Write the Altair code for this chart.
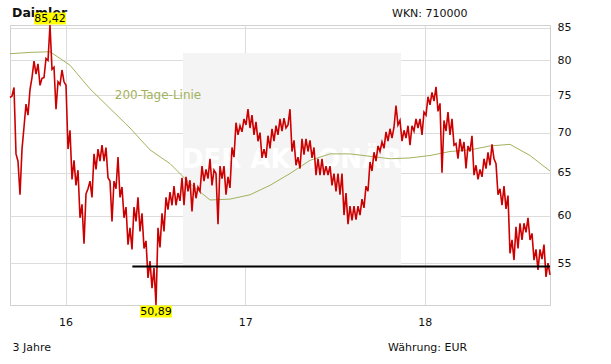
import altair as alt
import pandas as pd

# ---------------- data ----------------
start_date = "2015-09-10"
end_date = "2018-09-13"

price = [
    74.7, 74.9, 76.1, 67.3, 66.4, 62.4, 67.9, 70.7, 73.8, 72.3,
    75.8, 77.5, 79.9, 78.0, 79.5, 76.4, 77.4, 77.5, 80.3, 80.0,
    85.42, 78.7, 79.0, 73.1, 76.9, 76.5, 78.6, 76.9, 76.4, 67.9,
    70.3, 64.2, 66.5, 63.5, 65.3, 59.8, 61.3, 57.0, 62.5, 63.1,
    64.0, 62.1, 67.3, 65.4, 67.9, 66.4, 68.4, 66.4, 68.1, 64.4,
    64.0, 59.4, 64.0, 63.1, 66.9, 62.1, 63.3, 59.8, 61.0, 56.9,
    58.7, 56.4, 61.0, 59.4, 62.1, 58.3, 60.3, 56.5, 57.3, 53.5,
    55.2, 52.5, 54.5, 50.89, 58.7, 56.6, 60.3, 58.3, 62.1, 60.7,
    62.7, 61.2, 63.4, 61.2, 62.6, 61.7, 64.4, 61.2, 64.5, 62.8,
    64.1, 60.5, 63.8, 62.0, 63.3, 62.8, 65.8, 64.0, 65.4, 64.3,
    66.7, 63.5, 65.3, 64.9, 59.1, 65.8, 64.3, 65.8, 62.4, 64.5,
    63.2, 68.1, 66.9, 71.3, 69.7, 70.9, 70.1, 71.8, 71.0, 73.1,
    70.6, 72.3, 69.7, 71.4, 68.9, 70.0, 66.8, 67.9, 66.8, 69.6,
    68.0, 70.5, 68.9, 70.9, 69.7, 71.8, 70.2, 71.9, 70.6, 71.0,
    73.1, 67.6, 69.0, 65.9, 66.9, 65.5, 69.2, 67.2, 69.2, 67.6,
    69.0, 66.8, 68.1, 64.7, 66.7, 64.7, 66.7, 64.7, 65.8, 64.7,
    65.8, 63.5, 64.9, 62.8, 64.9, 62.4, 64.9, 60.1, 62.6, 59.1,
    61.1, 59.5, 61.1, 59.6, 61.1, 60.1, 61.9, 60.9, 63.4, 62.8,
    66.3, 65.2, 67.5, 66.4, 68.3, 67.6, 68.8, 68.0, 70.1, 68.9,
    70.5, 69.3, 70.7, 73.6, 71.0, 71.6, 68.9, 70.3, 69.3, 70.9,
    68.4, 70.9, 70.2, 71.8, 70.6, 71.8, 69.7, 72.7, 72.3, 74.8,
    73.7, 75.4, 74.2, 76.2, 72.8, 73.9, 65.0, 71.6, 70.2, 72.7,
    69.7, 71.8, 68.4, 68.6, 66.7, 69.2, 67.6, 68.8, 65.5, 68.3,
    67.6, 69.6, 64.7, 65.9, 64.2, 65.4, 64.5, 66.7, 65.5, 67.5,
    65.9, 68.5, 66.7, 66.1, 62.4, 63.1, 61.2, 63.4, 60.8, 62.3,
    56.0, 57.4, 55.3, 58.8, 56.5, 59.2, 57.4, 59.2, 58.2, 59.8,
    57.4, 58.1, 55.3, 56.4, 54.3, 56.4, 55.4, 56.9, 53.6, 55.0,
    53.8,
]

# 200-day line, one value for every 10th date of the price series
ma_200 = [
    81.0, 81.2, 81.3, 79.3, 75.9, 73.2, 70.6, 67.8, 66.1, 63.7,
    61.8, 61.9, 62.4, 63.5, 64.9, 66.5, 67.3, 67.3, 67.0, 66.7,
    66.8, 67.1, 67.6, 67.8, 68.3, 68.5, 67.1, 65.2,
]

support_level = 54.65
support_start = "2016-05-16"

year_ticks = [2016, 2017, 2018]
y_ticks = [55, 60, 65, 70, 75, 80, 85]

title_text = "Daimler"
wkn_text = "WKN: 710000"
period_text = "3 Jahre"
currency_text = "Währung: EUR"
ma_label = "200-Tage-Linie"
watermark = "DER AKTIONÄR"

# ---------------- tables ----------------
dates = pd.date_range(start_date, end_date, periods=len(price))
date_str = [d.strftime("%Y-%m-%dT%H:%M:%S") for d in dates]
price_df = pd.DataFrame({"date": date_str, "price": price})
ma_df = pd.DataFrame({"date": date_str[::10], "price": ma_200})
support_df = pd.DataFrame({"date": [support_start], "date2": [date_str[-1]],
                           "price": [support_level]})

i_max = price.index(max(price))
i_min = price.index(min(price))
max_df = pd.DataFrame({"date": [date_str[i_max]], "price": [price[i_max]],
                       "label": [f"{price[i_max]:.2f}".replace(".", ",")]})
min_df = pd.DataFrame({"date": [date_str[i_min]], "price": [price[i_min]],
                       "label": [f"{price[i_min]:.2f}".replace(".", ",")]})

FONT = "DejaVu Sans"
GRID = "#dcdcdc"
RED = "#cc0000"
OLIVE = "#a3b25c"

x_enc = alt.X(
    "date:T",
    scale=alt.Scale(nice=False),
    axis=alt.Axis(values=[alt.DateTime(year=y, month=1, date=1) for y in year_ticks],
                  format="%y", grid=True, gridColor=GRID, ticks=False, domain=False,
                  labelPadding=11, title=None, labelFont=FONT, labelFontSize=11,
                  labelColor="#111111"),
)
y_enc = alt.Y(
    "price:Q",
    scale=alt.Scale(type="log", domain=[min(price), max(price)], nice=False, zero=False),
    axis=alt.Axis(orient="right", values=y_ticks, grid=True, gridColor=GRID, ticks=False,
                  domain=False, labelPadding=7, title=None, labelFont=FONT,
                  labelFontSize=11, labelColor="#111111"),
)

one = pd.DataFrame({"t": [0]})

# watermark box and text
wm_box = alt.Chart(one).mark_rect(color="#f4f4f4").encode(
    x=alt.value(173), x2=alt.value(391), y=alt.value(28), y2=alt.value(243))
wm_text = alt.Chart(pd.DataFrame({"t": [watermark]})).mark_text(
    font=FONT, fontSize=26, fontWeight="bold", color="#ffffff", align="center",
    baseline="middle").encode(x=alt.value(282), y=alt.value(135), text="t:N")

ma_line = alt.Chart(ma_df).mark_line(color=OLIVE, strokeWidth=1).encode(x=x_enc, y=y_enc)
ma_text = alt.Chart(pd.DataFrame({"t": [ma_label]})).mark_text(
    font=FONT, fontSize=12, color=OLIVE, align="center", baseline="middle").encode(
    x=alt.value(148), y=alt.value(70), text="t:N")

price_line = alt.Chart(price_df).mark_line(color=RED, strokeWidth=1.6).encode(x=x_enc, y=y_enc)

support = alt.Chart(support_df).mark_rule(color="#000000", strokeWidth=2).encode(
    x=x_enc, x2="date2:T", y=y_enc)

box_shape = "M-1,-0.375H1V0.375H-1Z"
max_box = alt.Chart(max_df).mark_point(shape=box_shape, size=1024, filled=True,
                                       color="#ffff00", opacity=1, strokeWidth=0,
                                       yOffset=-6.5).encode(x=x_enc, y=y_enc)
max_lab = alt.Chart(max_df).mark_text(font=FONT, fontSize=11, color="#000000",
                                      baseline="middle", dy=-6.5).encode(
    x=x_enc, y=y_enc, text="label:N")
min_box = alt.Chart(min_df).mark_point(shape=box_shape, size=1024, filled=True,
                                       color="#ffff00", opacity=1, strokeWidth=0,
                                       yOffset=6.5).encode(x=x_enc, y=y_enc)
min_lab = alt.Chart(min_df).mark_text(font=FONT, fontSize=11, color="#000000",
                                      baseline="middle", dy=6.5).encode(
    x=x_enc, y=y_enc, text="label:N")

def header(txt, x, y, bold=False, size=11):
    return alt.Chart(pd.DataFrame({"t": [txt]})).mark_text(
        font=FONT, fontSize=size, fontWeight="bold" if bold else "normal",
        color="#111111", align="left", baseline="middle").encode(
        x=alt.value(x), y=alt.value(y), text="t:N")

title_l = header(title_text, 2, -12.5, bold=True, size=12.5)
wkn_l = header(wkn_text, 382, -11)
period_l = header(period_text, 2.5, 322.5)
cur_l = header(currency_text, 378, 322.5)

chart = alt.layer(
    wm_box, wm_text, ma_line, ma_text, price_line, support,
    title_l, wkn_l, period_l, cur_l,
    max_box, max_lab, min_box, min_lab,
).properties(
    width=540, height=280,
    autosize=alt.AutoSizeParams(type="none"),
    padding={"left": 10, "top": 25, "right": 61, "bottom": 59},
    background="#ffffff",
).configure_view(stroke="#d0d0d0", strokeWidth=1)

chart.save("out.html", embed_options={"renderer": "svg", "actions": False})
